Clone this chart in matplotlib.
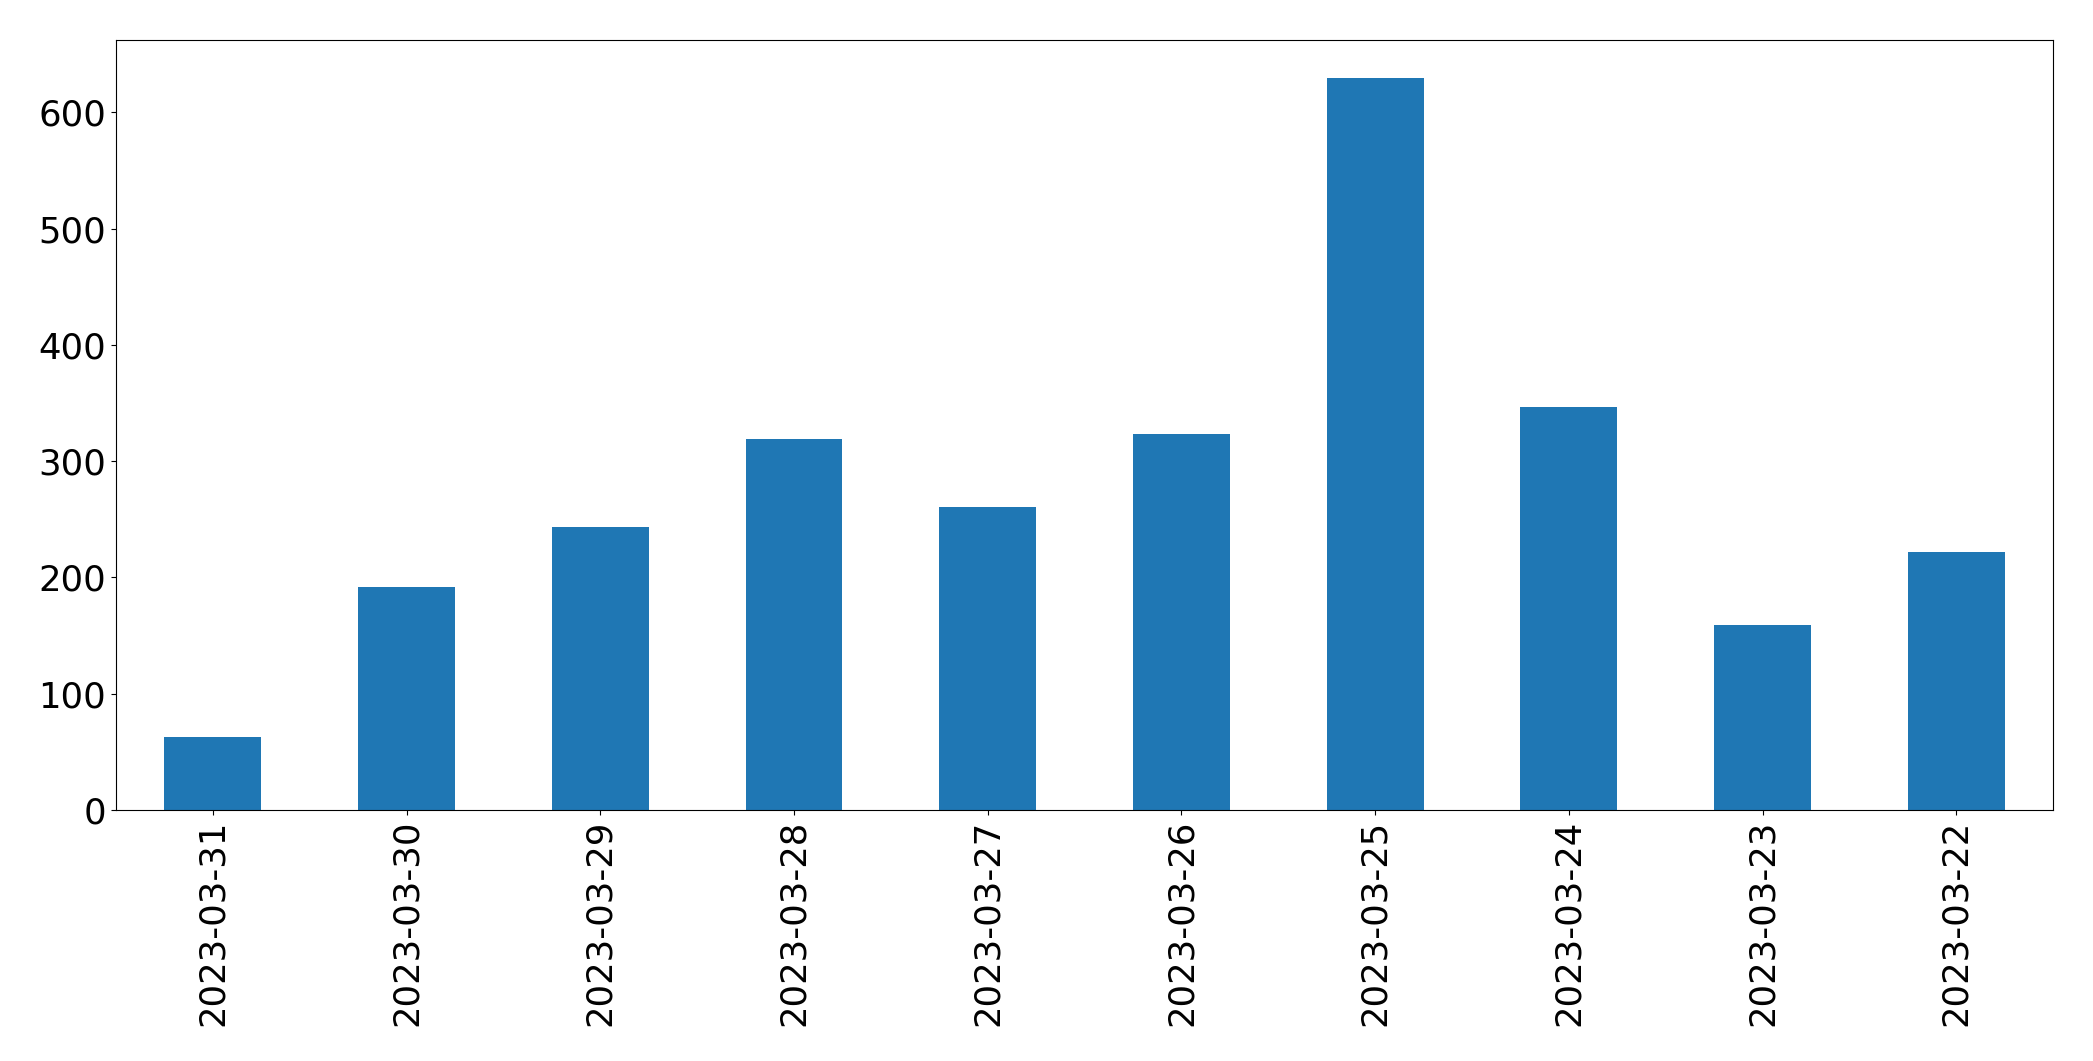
import matplotlib
matplotlib.use("Agg")
import matplotlib.pyplot as plt
import pandas as pd

dates = ["2023-03-31", "2023-03-30", "2023-03-29", "2023-03-28", "2023-03-27",
         "2023-03-26", "2023-03-25", "2023-03-24", "2023-03-23", "2023-03-22"]
counts = [63, 192, 243, 319, 261, 323, 630, 347, 159, 222]

s = pd.Series(counts, index=dates)

fig, ax = plt.subplots(figsize=(20.93, 10.61), dpi=100)
s.plot(kind="bar", ax=ax, color="#1f77b4", fontsize=25.6, rot=90)
ax.set_ylim(0, 662)
for sp in ax.spines.values():
    sp.set_edgecolor("black")
plt.subplots_adjust(left=0.0554, right=0.981, top=0.962, bottom=0.2366)
plt.savefig("out.png", dpi=100)
